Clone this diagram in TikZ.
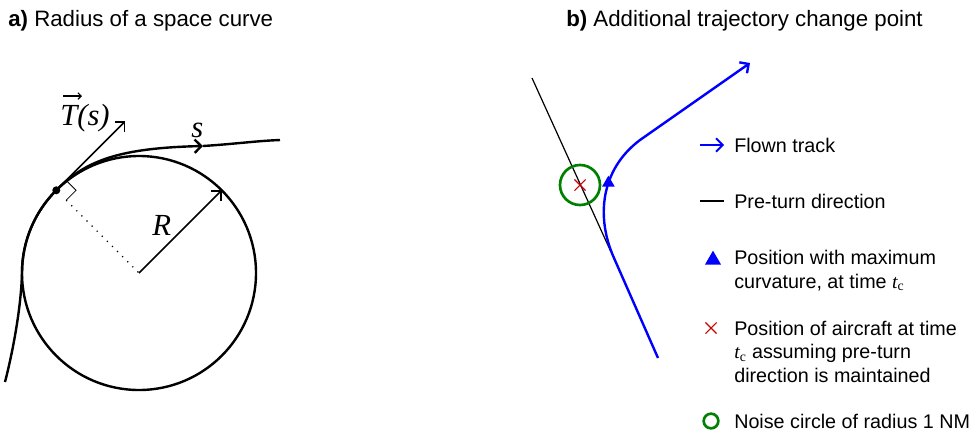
\documentclass[tikz,border=0pt]{standalone}
\usepackage{fontspec}
\setmainfont{Liberation Serif}
\setsansfont{Liberation Sans}
\usetikzlibrary{arrows.meta,shapes.geometric,shapes.misc,positioning}

\newcommand{\tcrit}{{\rmfamily\itshape t}\textsubscript{\rmfamily c}}

\begin{document}
\begin{tikzpicture}[
	x=0.75pt, y=-0.75pt,
	font=\sffamily,
	>={Straight Barb[length=5pt,width=10pt]},
	title/.style={anchor=base west, inner sep=0pt, font=\sffamily\fontsize{16.7}{20}\selectfont},
	curve/.style={line width=1.8pt},
	vec/.style={->, line width=1.2pt},
	sym/.style={anchor=base west, inner sep=0pt, font=\rmfamily\itshape\fontsize{23}{27}\selectfont},
	track/.style={blue, line width=1.8pt},
	legtext/.style={anchor=base west, inner sep=0pt, align=left, font=\sffamily\fontsize{14.8}{17.6}\selectfont},
	tri/.style={regular polygon, regular polygon sides=3, fill=blue, inner sep=0pt, minimum size=11pt},
	xmark/.style={cross out, draw=red!80!black, line width=0.8pt, inner sep=0pt, minimum size=7.5pt},
	noise/.style={circle, draw=green!50!black, line width=2pt, inner sep=0pt, minimum size=30pt}
]
\useasboundingbox (0,0) rectangle (977,436);

% --- Titles ---
\node[title] (titlea) at (8,26) {\textbf{a)} Radius of a space curve};
\node[title] (titleb) at (566,26) {\textbf{b)} Additional trajectory change point};

% --- a) circle and space curve ---
\coordinate (ctr) at (139,273);
\coordinate (rtip) at (221.7,190.3);
\coordinate (ttip) at (125.3,121.3);
\draw[curve] (ctr) circle[radius=117];
\draw[curve, ->] (5,382) .. controls (12,355) and (21,310) .. (22,273)
	arc[start angle=180, end angle=225, radius=117]
	.. controls (86,160) and (120,148) .. (203,146) coordinate (smid);
\draw[curve] (smid) .. controls (235,144) and (255,141) .. (280,140);
\node[circle, fill, inner sep=0pt, minimum size=6pt] (dot) at (56.3,190.3) {};
\draw[vec] (dot.center) -- (ttip);
\draw[vec] (ctr) -- (rtip);
\draw[line width=0.6pt] (dot.center) ++(9.9,-9.9) -- ++(9.9,9.9) -- ++(-9.9,9.9) coordinate (foot);
\draw[line width=0.9pt, dash pattern=on 0.9pt off 4.5pt] (foot) -- (ctr);

\node[sym] (tlabel) at (60,125) {T(s)};
\draw[line width=0.8pt, -{Straight Barb[length=2.5pt,width=5pt]}] ([shift={(3,-29)}]tlabel.base west) -- ++(19,0);
\node[sym] (slabel) at (191,137) {s};
\node[sym] (rlabel) at (152,235) {R};

% --- b) trajectory ---
\coordinate (pre1) at (532,78);
\coordinate (pre2) at (611,252);
\draw[line width=0.9pt] (pre1) -- (pre2);
\draw[track, ->] (658,358) -- (614,258)
	.. controls (596,218) and (600,170) .. node[tri, pos=0.6] (maxpt) {} (640,140)
	-- (750,63);
\node[noise] (noisecirc) at (580,185) {};
\node[xmark] (actpos) at (580,185) {};

% --- Legend ---
\coordinate (legA1) at (700,145);
\coordinate (legA2) at (724,145);
\coordinate (legB1) at (700,201);
\coordinate (legB2) at (724,201);
\draw[blue, line width=1.4pt, ->] (legA1) -- (legA2);
\draw[line width=1pt] (legB1) -- (legB2);
\node[tri, minimum size=14pt] (legtri) at (713,260) {};
\node[xmark] (legx) at (711,328) {};
\node[noise, minimum size=11pt] (legnoise) at (711,421) {};

\node[legtext] (flown) at (734,152) {Flown track};
\node[legtext] (preturn) at (734,208) {Pre-turn direction};
\node[legtext] (maxcurv) at (734,288) {Position with maximum\\curvature, at time \tcrit};
\node[legtext] (aircraft) at (734,382) {Position of aircraft at time\\\tcrit{} assuming pre-turn\\direction is maintained};
\node[legtext] (noisetxt) at (734,428) {Noise circle of radius 1 NM};

\end{tikzpicture}
\end{document}
